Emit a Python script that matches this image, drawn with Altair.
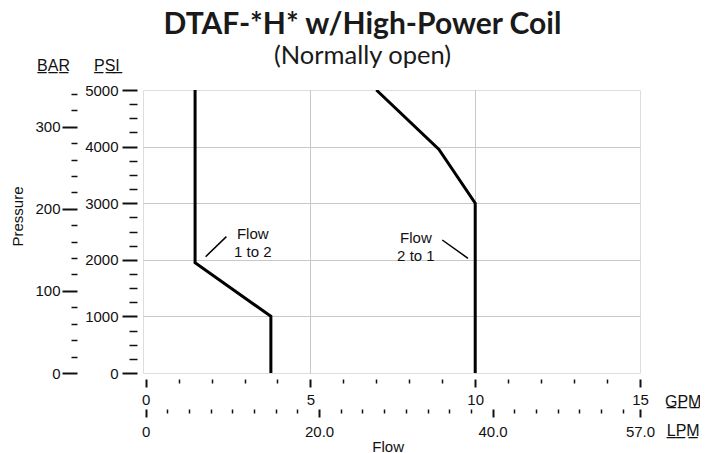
import altair as alt
import pandas as pd

# ---- data ----
flow12_gpm = [1.5, 1.5, 3.8, 3.8]
flow12_psi = [5000, 1950, 1000, 0]
flow21_gpm = [7.0, 8.9, 10.0, 10.0]
flow21_psi = [5000, 3950, 3000, 0]

label_text = ["Flow\n1 to 2", "Flow\n2 to 1"]
label_gpm = [3.25, 8.2]
label_psi = [2455, 2385]

leader12_gpm = [2.45, 1.82]
leader12_psi = [2410, 2055]
leader21_gpm = [9.0, 9.78]
leader21_psi = [2350, 2027]

psi_major = [0, 1000, 2000, 3000, 4000, 5000]
psi_minor = [v for v in range(250, 5000, 250) if v % 1000 != 0]
psi_grid = [1000, 2000, 3000, 4000]
bar_major = [0, 100, 200, 300]
bar_minor = [v for v in range(20, 341, 20) if v % 100 != 0]
gpm_major = [0, 5, 10, 15]
gpm_minor = [v for v in range(1, 15) if v % 5 != 0]
gpm_grid = [5, 10]
lpm_major = [0, 20, 40, 57]
lpm_minor = [x / 2 for x in range(5, 111, 5) if (x / 2) % 20 != 0]

GPM_DOMAIN = [-0.08, 15]
LPM_DOMAIN = [-0.304, 57]
PSI_DOMAIN = [0, 5000]
BAR_DOMAIN = [0, 5000 / 14.5038]

FONT = "Liberation Sans, Arial, Helvetica, sans-serif"
INK = "#111111"

lines_df = pd.DataFrame({
    "gpm": flow12_gpm + flow21_gpm,
    "psi": flow12_psi + flow21_psi,
    "series": ["1to2"] * len(flow12_gpm) + ["2to1"] * len(flow21_gpm),
    "idx": list(range(len(flow12_gpm))) + list(range(len(flow21_gpm))),
})
leader_df = pd.DataFrame({
    "gpm": leader12_gpm + leader21_gpm,
    "psi": leader12_psi + leader21_psi,
    "series": ["a", "a", "b", "b"],
    "idx": [0, 1, 0, 1],
})
label_df = pd.DataFrame({"gpm": label_gpm, "psi": label_psi, "text": label_text})
dummy_df = pd.DataFrame({"gpm": [0], "psi": [0], "lpm": [0], "bar": [0]})

def xs(domain):
    return alt.Scale(domain=domain, nice=False, zero=False)

def ys(domain):
    return alt.Scale(domain=domain, nice=False, zero=False)

none_axis = dict(labels=False, ticks=False, domain=False, title=None)

grid_x = alt.Axis(grid=True, values=gpm_grid, gridColor="#c8c8c8", gridWidth=1, **none_axis)
grid_y = alt.Axis(grid=True, values=psi_grid, gridColor="#c8c8c8", gridWidth=1, **none_axis)

lines = alt.Chart(lines_df).mark_line(color="black", strokeWidth=3, clip=True, strokeJoin="miter").encode(
    x=alt.X("gpm:Q", scale=xs(GPM_DOMAIN), axis=grid_x),
    y=alt.Y("psi:Q", scale=ys(PSI_DOMAIN), axis=grid_y),
    detail="series:N",
    order="idx:Q",
)

leaders = alt.Chart(leader_df).mark_line(color="black", strokeWidth=1.5).encode(
    x=alt.X("gpm:Q", scale=xs(GPM_DOMAIN), axis=None),
    y=alt.Y("psi:Q", scale=ys(PSI_DOMAIN), axis=None),
    detail="series:N",
    order="idx:Q",
)

labels = alt.Chart(label_df).mark_text(
    font=FONT, fontSize=15, lineBreak="\n", lineHeight=18, align="center", baseline="middle", color=INK
).encode(
    x=alt.X("gpm:Q", scale=xs(GPM_DOMAIN), axis=None),
    y=alt.Y("psi:Q", scale=ys(PSI_DOMAIN), axis=None),
    text="text:N",
)

common = dict(grid=False, domain=False, tickColor=INK, labelColor=INK, labelFont=FONT,
              labelFontSize=15, titleFont=FONT, titleColor=INK, titleFontWeight="normal",
              labelFlush=False, labelOverlap=False, labelBound=False)

# major GPM + major PSI
ax1 = alt.Chart(dummy_df).mark_point(opacity=0).encode(
    x=alt.X("gpm:Q", scale=xs(GPM_DOMAIN), axis=alt.Axis(
        orient="bottom", offset=6, values=gpm_major, tickSize=8, tickWidth=2,
        labelPadding=5, format="d", title=None, **common)),
    y=alt.Y("psi:Q", scale=ys(PSI_DOMAIN), axis=alt.Axis(
        orient="left", offset=6, values=psi_major, tickSize=15, tickWidth=2,
        labelPadding=4, format="d", title=None, **common)),
)

# minor GPM + minor PSI (with GPM / PSI headers)
ax2 = alt.Chart(dummy_df).mark_point(opacity=0).encode(
    x=alt.X("gpm:Q", scale=xs(GPM_DOMAIN), axis=alt.Axis(
        orient="bottom", offset=6, values=gpm_minor, tickSize=4, tickWidth=1.5, labels=False,
        title="G\u0332P\u0332M\u0332", titleX=539.7, titleY=22, titleAlign="center",
        titleBaseline="middle", titleFontSize=16, titleAngle=0, **common)),
    y=alt.Y("psi:Q", scale=ys(PSI_DOMAIN), axis=alt.Axis(
        orient="left", offset=6, values=psi_minor, tickSize=8, tickWidth=1.5, labels=False,
        title="P\u0332S\u0332I\u0332", titleX=-30.6, titleY=-24.7, titleAngle=0, titleAlign="center",
        titleBaseline="middle", titleFontSize=16, **common)),
)

# major LPM + major BAR
ax3 = alt.Chart(dummy_df).mark_point(opacity=0).encode(
    x=alt.X("lpm:Q", scale=xs(LPM_DOMAIN), axis=alt.Axis(
        orient="bottom", offset=36, values=lpm_major, tickSize=8, tickWidth=2,
        labelPadding=7, labelExpr="datum.value == 0 ? '0' : format(datum.value, '.1f')",
        title="Flow", titleX=244.7, titleY=37.5, titleAlign="center", titleBaseline="middle",
        titleFontSize=15, titleAngle=0, **common)),
    y=alt.Y("bar:Q", scale=ys(BAR_DOMAIN), axis=alt.Axis(
        orient="left", offset=66, values=bar_major, tickSize=15, tickWidth=2,
        labelPadding=2, format="d", title="Pressure", titleX=-59.3, titleY=126,
        titleAngle=270, titleAlign="center", titleBaseline="middle", titleFontSize=15, **common)),
)

# minor LPM + minor BAR (with LPM / BAR headers)
ax4 = alt.Chart(dummy_df).mark_point(opacity=0).encode(
    x=alt.X("lpm:Q", scale=xs(LPM_DOMAIN), axis=alt.Axis(
        orient="bottom", offset=36, values=lpm_minor, tickSize=4, tickWidth=1.5, labels=False,
        title="L\u0332P\u0332M\u0332", titleX=539.7, titleY=21.3, titleAlign="center",
        titleBaseline="middle", titleFontSize=16, titleAngle=0, **common)),
    y=alt.Y("bar:Q", scale=ys(BAR_DOMAIN), axis=alt.Axis(
        orient="left", offset=66, values=bar_minor, tickSize=6, tickWidth=1.5, labels=False,
        title="B\u0332A\u0332R\u0332", titleX=-24, titleY=-24.7, titleAngle=0, titleAlign="center",
        titleBaseline="middle", titleFontSize=16, **common)),
)

chart = alt.layer(lines, leaders, labels, ax1, ax2, ax3, ax4).resolve_scale(
    x="independent", y="independent"
).properties(
    width=497,
    height=283,
    padding={"left": 135, "top": 82, "right": 60, "bottom": 80},
    autosize=alt.AutoSizeParams(type="none"),
    title=alt.TitleParams(
        text="DTAF-*H* w/High-Power Coil",
        subtitle="(Normally open)",
        font="Lato", fontSize=30, fontWeight="bold", color="#1a1a1a",
        subtitleFont="Lato", subtitleFontSize=25.5, subtitleColor="#1a1a1a",
        subtitlePadding=4,
        anchor="middle", frame="group", dx=-29, offset=-12,
    ),
).configure_view(stroke="#888888", strokeWidth=2).configure(background="white")

chart.save("out.html", embed_options={"renderer": "svg", "actions": False})
